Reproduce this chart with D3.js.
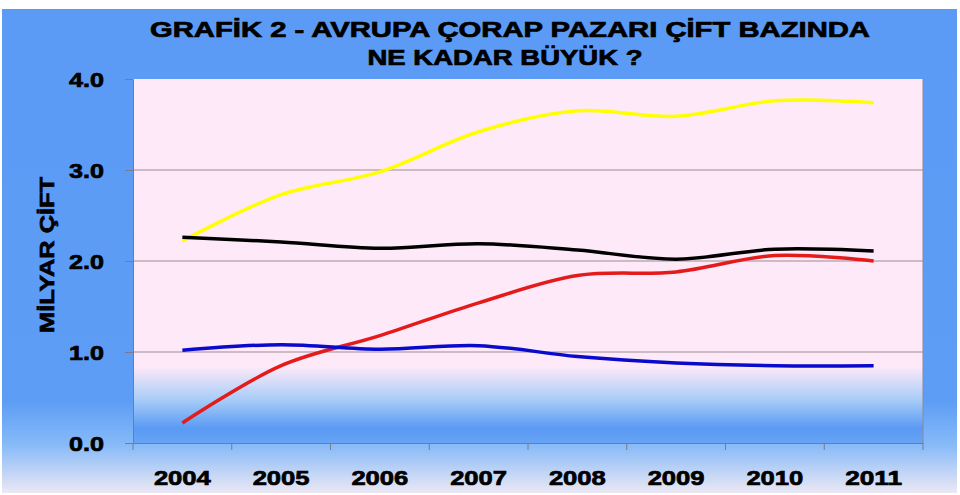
<!DOCTYPE html>
<html><head><meta charset="utf-8">
<script src="https://cdn.jsdelivr.net/npm/d3@7"></script>
<style>body{margin:0;background:#fff}svg{display:block}</style>
</head><body>
<svg id="chart" width="960" height="495"></svg>
<script>
const years = ["2004","2005","2006","2007","2008","2009","2010","2011"];
const yellowSeries = [2.22, 2.73, 2.98, 3.42, 3.65, 3.59, 3.76, 3.74];
const blackSeries  = [2.26, 2.21, 2.14, 2.19, 2.12, 2.02, 2.13, 2.11];
const redSeries    = [0.22, 0.85, 1.18, 1.54, 1.84, 1.88, 2.06, 2.00];
const blueSeries   = [1.02, 1.08, 1.03, 1.07, 0.95, 0.88, 0.85, 0.85];
const yTicks = [0, 1, 2, 3, 4];
const titleLines = ["GRAFİK 2 - AVRUPA ÇORAP PAZARI ÇİFT BAZINDA", "NE KADAR BÜYÜK ?"];
const yTitle = "MİLYAR ÇİFT";

const svg = d3.select("#chart");
const defs = svg.append("defs");
const FONT = "'Liberation Sans', Arial, sans-serif";
const heavy = sel => sel.attr("stroke","#000").attr("stroke-width",0.7).attr("paint-order","stroke");

const og = defs.append("linearGradient").attr("id","outerGrad").attr("x1",0).attr("y1",0).attr("x2",0).attr("y2",1);
og.append("stop").attr("offset","0%").attr("stop-color","#5B9BF5");
og.append("stop").attr("offset","81%").attr("stop-color","#5E9DF5");
og.append("stop").attr("offset","90%").attr("stop-color","#86BAF8");
og.append("stop").attr("offset","100%").attr("stop-color","#ECE8F4");

const pg = defs.append("linearGradient").attr("id","plotGrad").attr("x1",0).attr("y1",0).attr("x2",0).attr("y2",1);
pg.append("stop").attr("offset","0%").attr("stop-color","#FDE9F8");
pg.append("stop").attr("offset","79%").attr("stop-color","#FDE9F8");
pg.append("stop").attr("offset","88%").attr("stop-color","#A9CDF8");
pg.append("stop").attr("offset","96%").attr("stop-color","#5A9AF4");
pg.append("stop").attr("offset","100%").attr("stop-color","#68A4F5");

svg.append("rect").attr("x",2).attr("y",9).attr("width",955).attr("height",484).attr("fill","url(#outerGrad)");

const L = 133, R = 923, T = 79, B = 443;
const x = d3.scaleBand().domain(years).range([L, R]);
const y = d3.scaleLinear().domain([0, 4]).range([B, T]);

svg.append("rect").attr("x",L).attr("y",T).attr("width",R-L).attr("height",B-T).attr("fill","url(#plotGrad)");

// gridlines
svg.append("g").selectAll("line").data(yTicks.filter(d => d > 0 && d < 4)).join("line")
  .attr("x1",L).attr("x2",R).attr("y1",d=>y(d)).attr("y2",d=>y(d))
  .attr("stroke","#9C8C90").attr("stroke-width",1);

// right border
svg.append("line").attr("x1",R).attr("x2",R).attr("y1",T).attr("y2",B).attr("stroke","#8A8A9A").attr("stroke-width",1);

// y axis
const yAxis = svg.append("g").attr("transform",`translate(${L},0)`)
  .call(d3.axisLeft(y).tickValues(yTicks).tickFormat(d3.format(".1f")).tickSize(8).tickPadding(21));
yAxis.select(".domain").attr("stroke","#7A7A8A");
yAxis.selectAll(".tick line").attr("stroke","#7A7A8A");
yAxis.selectAll(".tick text").attr("font-family",FONT).attr("font-weight","bold").attr("font-size",21)
  .attr("fill","#000").attr("dy","0.36em").attr("textLength",35).attr("lengthAdjust","spacingAndGlyphs").call(heavy);

// x axis
const xAxis = svg.append("g").attr("transform",`translate(0,${B})`)
  .call(d3.axisBottom(x).tickSize(0).tickPadding(27));
xAxis.select(".domain").attr("stroke","#7A7A8A");
xAxis.selectAll(".tick text").attr("font-family",FONT).attr("font-weight","bold").attr("font-size",21)
  .attr("fill","#000").attr("textLength",57).attr("lengthAdjust","spacingAndGlyphs").call(heavy);
// tick marks between categories
const bounds = years.map(d => x(d)).concat([R]);
xAxis.append("g").selectAll("line").data(bounds).join("line")
  .attr("x1",d=>d).attr("x2",d=>d).attr("y1",0).attr("y2",7).attr("stroke","#7A7A8A");

// lines
const line = d3.line().x((d,i)=>x(years[i]) + x.bandwidth()/2).y(d=>y(d)).curve(d3.curveCatmullRom.alpha(0.5));
const series = [
  {vals: yellowSeries, color: "#FFFF00"},
  {vals: blackSeries, color: "#000000"},
  {vals: redSeries, color: "#E41B1B"},
  {vals: blueSeries, color: "#0A0ACC"}
];
svg.append("g").selectAll("path").data(series).join("path")
  .attr("d", d => line(d.vals)).attr("fill","none").attr("stroke", d=>d.color)
  .attr("stroke-width",3.5).attr("stroke-linecap","butt");

// title
svg.append("text").attr("x",510).attr("y",37).attr("text-anchor","middle")
  .attr("font-family",FONT).attr("font-weight","bold").attr("font-size",22)
  .attr("textLength",720).attr("lengthAdjust","spacingAndGlyphs").text(titleLines[0]).call(heavy);
svg.append("text").attr("x",505).attr("y",65).attr("text-anchor","middle")
  .attr("font-family",FONT).attr("font-weight","bold").attr("font-size",22)
  .attr("textLength",275).attr("lengthAdjust","spacingAndGlyphs").text(titleLines[1]).call(heavy);

// y title
svg.append("text").attr("transform","translate(54,255) rotate(-90)").attr("text-anchor","middle")
  .attr("font-family",FONT).attr("font-weight","bold").attr("font-size",21)
  .attr("textLength",156).attr("lengthAdjust","spacingAndGlyphs").text(yTitle).call(heavy);
</script>
</body></html>
